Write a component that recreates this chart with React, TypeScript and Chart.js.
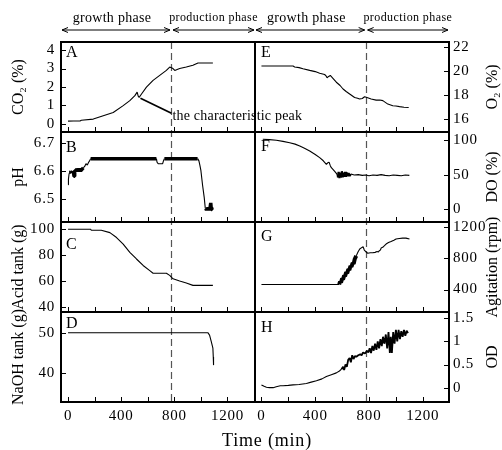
import React, { useEffect, useRef } from "react";
import { Chart, registerables } from "chart.js";

Chart.register(...registerables);

const SERIF = "'Liberation Serif', 'Times New Roman', Times, serif";

// ---------------- data (time in min) ----------------
// A: CO2 (%)
const tA = [0, 40, 90, 100, 190, 265, 340, 415, 465, 503, 520, 528, 535, 553, 590, 640, 690, 740, 765, 790, 803, 840, 890, 940, 978, 1090];
const co2 = [0.15, 0.16, 0.16, 0.2, 0.26, 0.44, 0.62, 0.99, 1.26, 1.53, 1.72, 1.5, 1.44, 1.62, 1.99, 2.36, 2.63, 2.9, 3.08, 3.0, 2.9, 3.0, 3.08, 3.18, 3.3, 3.3];

// B: pH
const tB = [0, 3, 8, 12, 18, 25, 32, 40, 45, 50, 58, 65, 75, 85, 95, 105, 115, 125, 135, 145, 155, 162, 170, 665, 670, 678, 712, 718, 725, 975, 985, 992, 1000, 1012, 1025, 1033, 1040, 1050, 1060, 1068, 1074, 1078, 1082, 1090];
const ph = [6.55, 6.57, 6.59, 6.6, 6.59, 6.6, 6.59, 6.6, 6.58, 6.6, 6.6, 6.605, 6.6, 6.605, 6.6, 6.605, 6.61, 6.615, 6.625, 6.62, 6.63, 6.635, 6.643, 6.643, 6.63, 6.625, 6.625, 6.635, 6.643, 6.643, 6.635, 6.62, 6.6, 6.55, 6.504, 6.465, 6.462, 6.465, 6.462, 6.465, 6.485, 6.462, 6.465, 6.462];

// C: Acid tank (g)
const tC = [0, 170, 175, 250, 315, 365, 415, 465, 515, 565, 615, 640, 740, 765, 790, 840, 890, 940, 1090];
const acid = [100, 100, 99.2, 99.2, 97.4, 93.6, 88.5, 82.1, 77, 72, 68, 66, 66, 64.3, 61.7, 59.9, 58.4, 56.6, 56.6];

// D: NaOH tank (g)
const tD = [0, 1052, 1065, 1078, 1090, 1093, 1095];
const naoh = [50, 50, 49.4, 47.8, 46.2, 44, 42];

// E: O2 (%)
const tE = [0, 235, 247, 280, 309, 359, 400, 433, 470, 480, 488, 500, 512, 535, 557, 585, 607, 630, 656, 693, 715, 730, 750, 767, 785, 816, 853, 880, 903, 940, 977, 1000, 1027, 1060, 1095];
const o2 = [20.41, 20.41, 20.33, 20.28, 20.19, 20.05, 19.95, 19.82, 19.71, 19.6, 19.44, 19.55, 19.63, 19.35, 19.07, 18.8, 18.51, 18.3, 18.1, 17.81, 17.75, 17.68, 17.72, 17.87, 17.8, 17.68, 17.59, 17.6, 17.55, 17.26, 17.12, 17.1, 17.05, 17.0, 16.98];

// F: DO (%)
const tF = [10, 60, 111, 160, 210, 250, 285, 320, 359, 400, 433, 460, 483, 493, 503, 512, 520, 535, 548, 560, 568, 574, 580, 586, 592, 598, 604, 610, 616, 622, 628, 634, 640, 648, 656, 665, 690, 720, 750, 775, 800, 830, 860, 890, 920, 950, 980, 1010, 1040, 1070, 1100];
const dox = [101, 100.5, 99.6, 98, 96, 94, 91.3, 88, 84, 79, 74.5, 70, 64.9, 67, 68, 63, 60, 57, 54, 51, 46, 54, 45, 53, 47, 55, 46, 53, 47, 54, 47, 53, 48, 52, 48, 51, 49.5, 50, 49, 49.5, 48.5, 49.5, 49, 50, 49, 48.5, 49.5, 49, 48.5, 49.5, 49];

// G: Agitation (rpm)
const tG = [0, 578, 585, 592, 600, 607, 615, 622, 630, 638, 646, 654, 662, 670, 678, 686, 694, 705, 718, 731, 745, 756, 765, 778, 791, 810, 828, 845, 860, 870, 877, 885, 890, 902, 915, 927, 945, 964, 985, 1001, 1025, 1050, 1075, 1101];
const agit = [465, 465, 500, 490, 540, 530, 580, 570, 620, 610, 660, 650, 700, 690, 740, 730, 790, 830, 880, 918, 935, 947, 905, 880, 863, 870, 870, 875, 885, 880, 897, 905, 930, 939, 960, 981, 1000, 1014, 1030, 1045, 1052, 1057, 1057, 1045];

// H: OD
const tH = [0, 20, 37, 60, 87, 110, 140, 161, 200, 235, 280, 334, 370, 409, 450, 483, 520, 557, 580, 595, 607, 615, 625, 635, 645, 656, 665, 675, 685, 695, 706, 720, 735, 745, 756, 770, 785, 795, 805, 815, 825, 835, 845, 855, 865, 875, 885, 895, 904, 915, 925, 935, 945, 955, 962, 970, 980, 990, 1000, 1010, 1020, 1030, 1040, 1050, 1060, 1070, 1080, 1090];
const od = [0.06, 0.03, 0.01, 0.0, 0.0, 0.02, 0.04, 0.04, 0.05, 0.06, 0.07, 0.09, 0.12, 0.15, 0.19, 0.24, 0.28, 0.32, 0.36, 0.4, 0.45, 0.38, 0.5, 0.45, 0.6, 0.64, 0.55, 0.7, 0.62, 0.68, 0.67, 0.7, 0.72, 0.7, 0.76, 0.74, 0.8, 0.76, 0.85, 0.75, 0.9, 0.8, 0.95, 0.82, 1.0, 0.85, 1.05, 0.9, 1.1, 0.95, 1.15, 0.85, 1.2, 0.75, 1.1, 0.75, 1.2, 0.95, 1.25, 1.0, 1.25, 1.05, 1.22, 1.1, 1.25, 1.12, 1.23, 1.18];

// ticks
const xTicks = [0, 200, 400, 600, 800, 1000, 1200];
const xLabelStep = 400;
const ticksA = [0, 1, 2, 3, 4];
const ticksB = [6.5, 6.6, 6.7];
const ticksC = [40, 60, 80, 100];
const ticksD = [40, 50];
const ticksE = [16, 18, 20, 22];
const ticksF = [0, 50, 100];
const ticksG = [400, 800, 1200];
const ticksH = [0, 0.5, 1, 1.5];

// noisy (thick-trace) time ranges
const noisyB = [[40, 110], [170, 665], [725, 975], [1033, 1090]];
const noisyF = [[565, 665]];
const noisyG = [[578, 700]];
const noisyH = [[595, 1090]];

const phaseBoundary = 775;
const phaseLabels = ["growth phase", "production phase"];
const peakTime = 530;
const peakValue = 1.44;
const annotationText = "the characteristic peak";
const xTitle = "Time (min)";

type Panel = {
  id: string; x: string; side: "left" | "right"; title: string; letterDy: number;
  t: number[]; v: number[]; min: number; max: number; ticks: number[];
  noisy: number[][]; thick: number; weight: number;
};

const panels: Panel[] = [
  { id: "A", x: "xL", side: "left", title: "CO₂ (%)", letterDy: 11, t: tA, v: co2, min: -0.44, max: 4.44, ticks: ticksA, noisy: [], thick: 1, weight: 4 },
  { id: "B", x: "xL", side: "left", title: "pH", letterDy: 16, t: tB, v: ph, min: 6.417, max: 6.738, ticks: ticksB, noisy: noisyB, thick: 3.5, weight: 3 },
  { id: "C", x: "xL", side: "left", title: "Acid tank (g)", letterDy: 23, t: tC, v: acid, min: 36, max: 105.6, ticks: ticksC, noisy: [], thick: 1, weight: 2 },
  { id: "D", x: "xL", side: "left", title: "NaOH tank (g)", letterDy: 12, t: tD, v: naoh, min: 32.9, max: 55.1, ticks: ticksD, noisy: [], thick: 1, weight: 1 },
  { id: "E", x: "xR", side: "right", title: "O₂ (%)", letterDy: 11, t: tE, v: o2, min: 14.95, max: 22.4, ticks: ticksE, noisy: [], thick: 1, weight: 1 },
  { id: "F", x: "xR", side: "right", title: "DO (%)", letterDy: 15, t: tF, v: dox, min: -18.3, max: 111.5, ticks: ticksF, noisy: noisyF, thick: 2.2, weight: 2 },
  { id: "G", x: "xR", side: "right", title: "Agitation (rpm)", letterDy: 15, t: tG, v: agit, min: 113, max: 1263, ticks: ticksG, noisy: noisyG, thick: 4, weight: 3 },
  { id: "H", x: "xR", side: "right", title: "OD", letterDy: 16, t: tH, v: od, min: -0.31, max: 1.636, ticks: ticksH, noisy: noisyH, thick: 1.8, weight: 4 },
];

const inRanges = (a: number, b: number, ranges: number[][]) => {
  const m = (a + b) / 2;
  return ranges.some(([lo, hi]) => m >= lo && m <= hi);
};

function arrowHead(ctx: CanvasRenderingContext2D, x: number, y: number, dir: number) {
  ctx.moveTo(x, y);
  ctx.lineTo(x + dir * 6, y - 2.5);
  ctx.moveTo(x, y);
  ctx.lineTo(x + dir * 6, y + 2.5);
}

const decor = {
  id: "decor",
  beforeDraw(chart: any) {
    chart.ctx.letterSpacing = "0.8px";
  },
  beforeDatasetsDraw(chart: any) {
    const ctx: CanvasRenderingContext2D = chart.ctx;
    const { top, bottom } = chart.chartArea;
    ctx.save();
    ctx.strokeStyle = "#555";
    ctx.lineWidth = 1.2;
    ctx.setLineDash([7, 4]);
    for (const id of ["xL", "xR"]) {
      const px = Math.round(chart.scales[id].getPixelForValue(phaseBoundary)) + 0.5;
      ctx.beginPath();
      ctx.moveTo(px, top);
      ctx.lineTo(px, bottom);
      ctx.stroke();
    }
    ctx.restore();
  },
  afterDatasetsDraw(chart: any) {
    const ctx: CanvasRenderingContext2D = chart.ctx;
    ctx.save();
    ctx.letterSpacing = "0px";
    ctx.strokeStyle = "#000";
    ctx.fillStyle = "#000";
    for (const p of panels) {
      const xs = chart.scales[p.x];
      const ys = chart.scales["y" + p.id];
      ctx.lineWidth = 1;
      ctx.beginPath();
      for (const v of xTicks) {
        const px = Math.round(xs.getPixelForValue(v)) + 0.5;
        if (px <= xs.left + 1 || px >= xs.right - 1) continue;
        ctx.moveTo(px, ys.bottom);
        ctx.lineTo(px, ys.bottom - 5);
      }
      for (const v of p.ticks) {
        const py = Math.round(ys.getPixelForValue(v)) + 0.5;
        if (py < ys.top + 1 || py > ys.bottom - 1) continue;
        if (p.side === "left") {
          ctx.moveTo(xs.left, py);
          ctx.lineTo(xs.left + 5, py);
        } else {
          ctx.moveTo(xs.right, py);
          ctx.lineTo(xs.right - 5, py);
        }
      }
      ctx.stroke();
      ctx.lineWidth = 2;
      ctx.strokeRect(xs.left, ys.top, xs.right - xs.left, ys.bottom - ys.top);
      ctx.font = `16px ${SERIF}`;
      ctx.textAlign = "left";
      ctx.textBaseline = "middle";
      ctx.fillText(p.id, xs.left + (p.side === "left" ? 5 : 6), ys.top + p.letterDy);
      ctx.save();
      ctx.translate(p.side === "left" ? xs.left - 42 : xs.right + 44, (ys.top + ys.bottom) / 2);
      ctx.rotate(-Math.PI / 2);
      ctx.font = `16px ${SERIF}`;
      ctx.textAlign = "center";
      ctx.textBaseline = "middle";
      ctx.fillText(p.title, 0, 0);
      ctx.restore();
    }

    // header: phases
    const top = chart.chartArea.top;
    for (const id of ["xL", "xR"]) {
      const xs = chart.scales[id];
      const b = xs.getPixelForValue(phaseBoundary);
      const segs = [[xs.left + 1, b - 1], [b + 2, xs.right - 1]];
      const ay = top - 12;
      segs.forEach(([a, c], i) => {
        ctx.lineWidth = 1;
        ctx.beginPath();
        ctx.moveTo(a, ay);
        ctx.lineTo(c, ay);
        arrowHead(ctx, a, ay, 1);
        arrowHead(ctx, c, ay, -1);
        ctx.stroke();
        ctx.font = i === 0 ? `14px ${SERIF}` : `12px ${SERIF}`;
        ctx.letterSpacing = i === 0 ? "0.3px" : "0.4px";
        ctx.textAlign = "center";
        ctx.textBaseline = "alphabetic";
        ctx.fillText(phaseLabels[i], (a + c) / 2 + (i === 0 ? -4 : 0), top - (i === 0 ? 20 : 21));
      });
    }

    // x title
    ctx.letterSpacing = "0.8px";
    ctx.font = `18px ${SERIF}`;
    ctx.textAlign = "center";
    ctx.textBaseline = "middle";
    ctx.fillText(xTitle, (chart.chartArea.left + chart.chartArea.right) / 2 + 12, 441);

    // annotation
    const xa = chart.scales.xL, ya = chart.scales.yA;
    const px = xa.getPixelForValue(peakTime), py = ya.getPixelForValue(peakValue);
    const ex = px + 33, ey = py + 16;
    ctx.lineWidth = 1.7;
    ctx.beginPath();
    ctx.moveTo(px + 2, py + 1);
    ctx.lineTo(ex, ey);
    ctx.stroke();
    ctx.letterSpacing = "0.2px";
    ctx.font = `14px ${SERIF}`;
    ctx.textAlign = "left";
    ctx.textBaseline = "alphabetic";
    ctx.fillText(annotationText, ex + 1, ey + 7);
    ctx.restore();
  },
};

export default function App() {
  const ref = useRef<HTMLCanvasElement>(null);
  useEffect(() => {
    const tickFont = { family: SERIF, size: 15 };
    const scales: any = {
      xL: {
        type: "linear", position: "bottom", stack: "B", stackWeight: 1, min: -53, max: 1407,
        grid: { display: false, drawTicks: false }, border: { display: false },
        afterBuildTicks: (s: any) => { s.ticks = xTicks.map((v) => ({ value: v })); },
        afterFit: (s: any) => { s.height = 48; },
        ticks: { font: tickFont, color: "#000", padding: 5, autoSkip: false, maxRotation: 0,
          callback: (v: any) => (Number(v) % xLabelStep === 0 ? String(v) : "") },
      },
      xR: {
        type: "linear", position: "bottom", stack: "B", stackWeight: 1, min: -48, max: 1395,
        grid: { display: false, drawTicks: false }, border: { display: false },
        afterBuildTicks: (s: any) => { s.ticks = xTicks.map((v) => ({ value: v })); },
        afterFit: (s: any) => { s.height = 48; },
        ticks: { font: tickFont, color: "#000", padding: 5, autoSkip: false, maxRotation: 0,
          callback: (v: any) => (Number(v) % xLabelStep === 0 ? String(v) : "") },
      },
    };
    for (const p of panels) {
      scales["y" + p.id] = {
        type: "linear", position: p.side, stack: p.side === "left" ? "L" : "R", stackWeight: 1,
        weight: p.weight, min: p.min, max: p.max,
        grid: { display: false, drawTicks: false }, border: { display: false },
        afterBuildTicks: (s: any) => { s.ticks = p.ticks.map((v) => ({ value: v })); },
        afterFit: (s: any) => { s.width = p.side === "left" ? 61 : 53; },
        ticks: { font: tickFont, color: "#000", padding: p.side === "left" ? 6 : 4, autoSkip: false,
          callback: (v: any) => String(v) },
      };
    }
    const datasets = panels.map((p) => ({
      label: p.title,
      data: p.t.map((t, i) => ({ x: t, y: p.v[i] })),
      xAxisID: p.x,
      yAxisID: "y" + p.id,
      borderColor: "#000",
      borderWidth: 1.1,
      borderJoinStyle: "bevel",
      pointRadius: 0,
      tension: 0,
      fill: false,
      segment: {
        borderWidth: (c: any) => (inRanges(c.p0.parsed.x, c.p1.parsed.x, p.noisy) ? p.thick : 1.1),
      },
    }));
    const chart = new Chart(ref.current as HTMLCanvasElement, {
      type: "line",
      data: { datasets } as any,
      options: {
        animation: false,
        responsive: false,
        maintainAspectRatio: false,
        layout: { padding: { top: 42, left: 0, right: 0, bottom: 0 } },
        plugins: { legend: { display: false }, tooltip: { enabled: false } },
        scales,
      } as any,
      plugins: [decor as any],
    });
    return () => chart.destroy();
  }, []);
  return (
    <div style={{ position: "absolute", left: 0, top: 0, width: 502, height: 450, background: "#fff" }}>
      <canvas ref={ref} width={502} height={450} style={{ display: "block" }} />
    </div>
  );
}
